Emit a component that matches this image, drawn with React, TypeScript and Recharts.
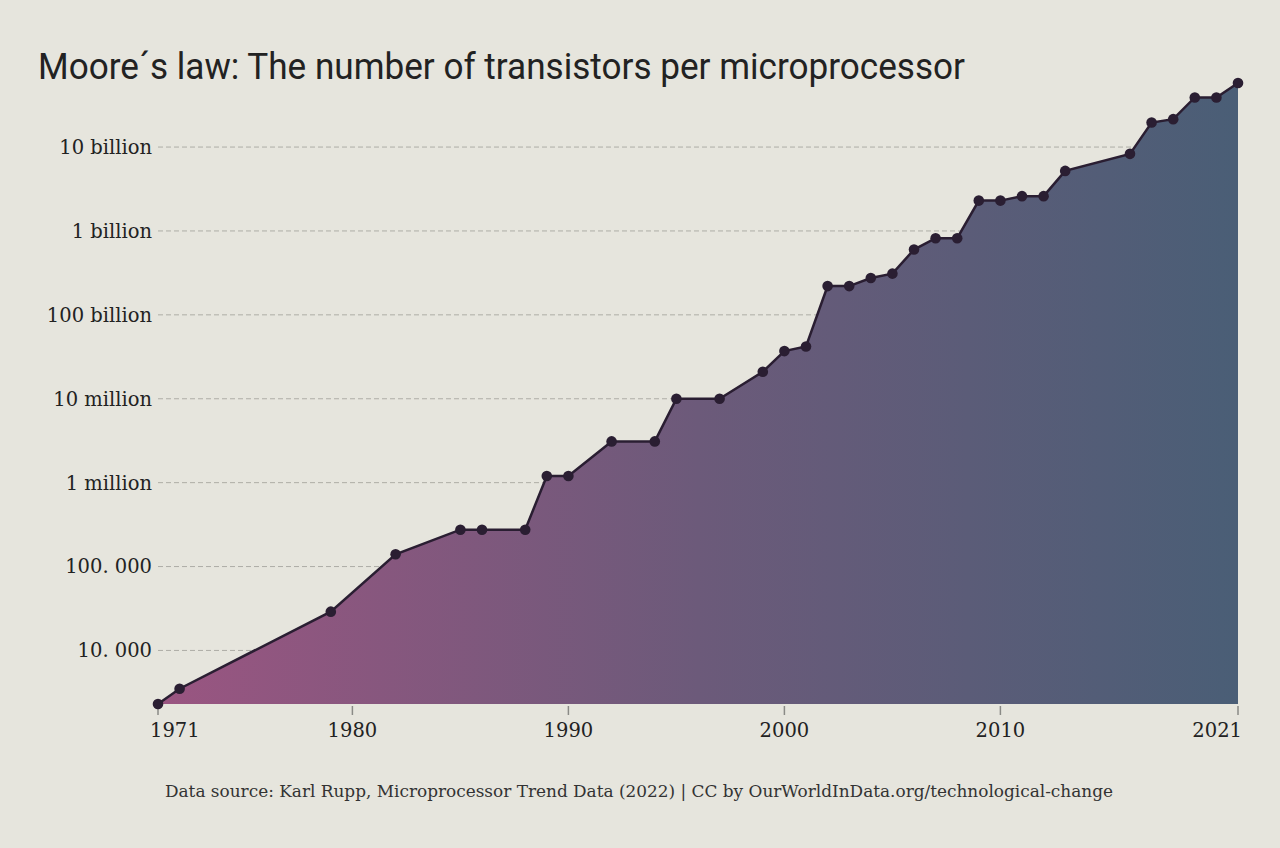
import React from "react";
import { ComposedChart, Area, Line, XAxis, YAxis, CartesianGrid } from "recharts";

// Transistor counts per year
const years = [
  1971, 1972, 1979, 1982, 1985, 1986, 1988, 1989, 1990, 1992, 1994, 1995, 1997, 1999, 2000,
  2001, 2002, 2003, 2004, 2005, 2006, 2007, 2008, 2009, 2010, 2011, 2012, 2013, 2016, 2017,
  2018, 2019, 2020, 2021,
];
const transistors = [
  2300, 3500, 29000, 140000, 275000, 275000, 275000, 1200000, 1200000, 3100000, 3100000,
  10000000, 10000000, 21000000, 37000000, 42000000, 220000000, 220000000, 275000000,
  310000000, 600000000, 820000000, 820000000, 2300000000, 2300000000, 2600000000,
  2600000000, 5200000000, 8300000000, 19600000000, 21500000000, 39000000000, 39000000000,
  58000000000,
];

const xTicks = [1971, 1980, 1990, 2000, 2010, 2021];
const yTicks = [1e4, 1e5, 1e6, 1e7, 1e8, 1e9, 1e10];
const yTickLabels = ["10. 000", "100. 000", "1 million", "10 million", "100 billion", "1 billion", "10 billion"];

const data = years.map((year, i) => ({ year, value: transistors[i] }));

const C = {
  bg: "#e6e5dd",
  line: "#2a1e32",
  grid: "#aeada6",
  text: "#222222",
  sub: "#333333",
};

const serif = "'DejaVu Serif', 'Liberation Serif', serif";

// first and last year labels hug the plot edges like in the original
const YearTick = (props: any) => {
  const { x, y, payload } = props;
  const v = payload.value;
  let anchor: "start" | "middle" | "end" = "middle";
  let dx = 0;
  if (v === xTicks[0]) { anchor = "start"; dx = -8; }
  if (v === xTicks[xTicks.length - 1]) { anchor = "end"; dx = 4; }
  return (
    <text x={x + dx} y={y} dy={20} textAnchor={anchor} fill={C.text} fontSize={19.5} fontFamily={serif}>
      {v}
    </text>
  );
};

export default function App() {
  return (
    <div style={{ position: "absolute", left: 0, top: 0, width: 1280, height: 848, background: C.bg, overflow: "hidden" }}>
      <ComposedChart width={1280} height={848} data={data} margin={{ top: 83, right: 42, bottom: 114, left: 0 }}>
        <defs>
          <linearGradient id="fillGrad" x1="0" y1="0" x2="1" y2="0">
            <stop offset="0%" stopColor="#9a5581" />
            <stop offset="50%" stopColor="#6c5a7a" />
            <stop offset="100%" stopColor="#4a5e76" />
          </linearGradient>
        </defs>
        <CartesianGrid vertical={false} horizontalValues={yTicks} stroke={C.grid} strokeDasharray="5 3" />
        <XAxis
          dataKey="year"
          type="number"
          domain={[1971, 2021]}
          ticks={xTicks}
          height={30}
          axisLine={false}
          tickLine={{ stroke: "#8a8a86", strokeWidth: 1.5, transform: "translate(0, 2)" }}
          tickSize={9}
          tickMargin={4}
          tick={<YearTick />}
        />
        <YAxis
          type="number"
          scale="log"
          domain={[2300, 58000000000]}
          ticks={yTicks}
          tickFormatter={(v: number) => yTickLabels[yTicks.indexOf(v)] ?? ""}
          width={158}
          axisLine={false}
          tickLine={false}
          tickSize={0}
          tickMargin={6}
          tick={{ fill: C.text, fontSize: 19.5, fontFamily: serif }}
        />
        <Area
          type="linear"
          dataKey="value"
          stroke="none"
          fill="url(#fillGrad)"
          fillOpacity={1}
          baseValue={2300}
          isAnimationActive={false}
        />
        <Line
          type="linear"
          dataKey="value"
          stroke={C.line}
          strokeWidth={2.5}
          dot={{ r: 5.3, fill: C.line, stroke: "none" }}
          activeDot={false}
          isAnimationActive={false}
        />
      </ComposedChart>
      <svg width={1280} height={848} style={{ position: "absolute", left: 0, top: 0, pointerEvents: "none" }}>
        <text
          x={38}
          y={79}
          fontFamily="Roboto, sans-serif"
          fontSize={37}
          fill={C.text}
          textLength={927}
          lengthAdjust="spacingAndGlyphs"
        >
          Moore´s law: The number of transistors per microprocessor
        </text>
        <text
          x={639}
          y={797}
          textAnchor="middle"
          fontFamily={serif}
          fontSize={16.5}
          fill={C.sub}
          textLength={948}
          lengthAdjust="spacingAndGlyphs"
        >
          Data source: Karl Rupp, Microprocessor Trend Data (2022)  |  CC by OurWorldInData.org/technological-change
        </text>
      </svg>
    </div>
  );
}
